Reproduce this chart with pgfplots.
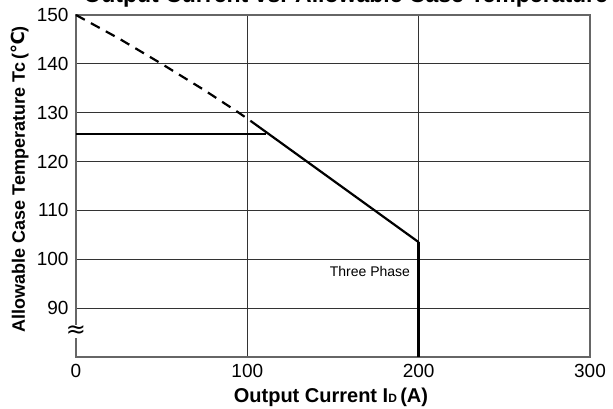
\documentclass[border=0pt]{standalone}
\usepackage{fontspec}
\setmainfont{Liberation Sans}
\newfontfamily\dejavu{DejaVu Sans}
\usepackage{pgfplots}
\pgfplotsset{compat=1.18}
\begin{document}
\begin{tikzpicture}
\begin{axis}[
 scale only axis, width=514pt, height=342pt,
 xmin=0, xmax=300, ymin=80, ymax=150,
 xtick={0,100,200,300}, ytick={90,100,110,120,130,140,150},
 grid=major, major grid style={black!80, line width=0.8pt},
 axis line style={black!60, line width=1.2pt},
 major tick length=0pt,
 tick label style={font=\fontsize{19}{19}\selectfont},
 yticklabel style={xshift=-4pt},
 xticklabel style={yshift=-4pt},
 /pgf/number format/assume math mode=true,
 xlabel={Output Current I{\fontsize{12}{12}\selectfont D}\,(A)},
 ylabel={Allowable Case Temperature Tc\,({\dejavu ℃})},
 xlabel style={font=\bfseries\fontsize{20}{20}\selectfont, at={(axis description cs:0.496,-0.1345)}, anchor=base},
 ylabel style={font=\bfseries\fontsize{18}{18}\selectfont, at={(axis description cs:-0.109,0.52)}, anchor=center},
 clip=false,
]
\addplot[black, line width=2.2pt, dash pattern=on 10pt off 7pt] coordinates {
 (0,150) (25,145.2) (50,140) (75,134.6) (95,130) (102,128.3)};
\addplot[black, line width=2.2pt] coordinates {(102,128.3) (200,103.5)};
\addplot[black, line width=2.2pt] coordinates {(0,125.7) (111,125.7)};
\addplot[black, line width=2.8pt] coordinates {(200,103.5) (200,80)};
\node[anchor=east, font=\fontsize{14}{14}\selectfont] at (axis cs:197,97.6) {Three Phase};
\node[fill=white, inner sep=0.3pt, font=\dejavu\fontsize{24}{24}\selectfont] at (axis cs:0,85.2) {≈};
\node[anchor=base west, font=\bfseries\fontsize{23}{23}\selectfont] at ([shift={(4pt,12pt)}]rel axis cs:0,1) {Output Current vs. Allowable Case Temperature};
\end{axis}
\pgfresetboundingbox
\path[use as bounding box] ([shift={(-76pt,-52pt)}]current axis.south west) rectangle ([shift={(23pt,15pt)}]current axis.north east);
\end{tikzpicture}
\end{document}
